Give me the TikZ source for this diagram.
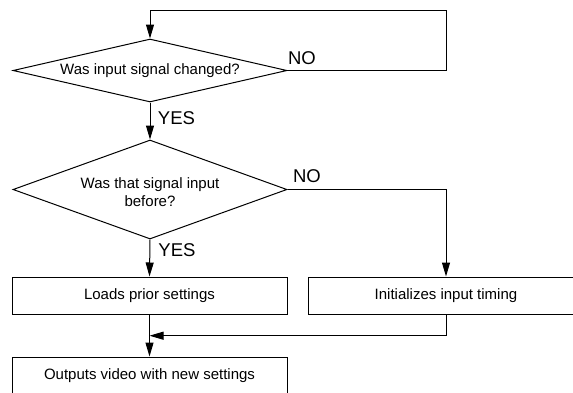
\documentclass[tikz,border=0pt]{standalone}
\usepackage{fontspec}
\setmainfont{Liberation Sans}
\usetikzlibrary{arrows.meta,shapes.geometric}
\begin{document}
\begin{tikzpicture}[x=1pt,y=-1pt,
  line width=1pt,
  every node/.style={font=\fontsize{15}{18}\selectfont},
  dec/.style={draw, diamond, inner sep=0pt, minimum width=274pt},
  procbox/.style={draw, rectangle, inner sep=0pt, minimum height=37pt},
  lbl/.style={font=\fontsize{18.5}{22}\selectfont, inner sep=0pt},
  arr/.style={-{Triangle[length=14pt,width=8pt]}},
  plain/.style={-}]
\clip (0,0) rectangle (573,392);

\node[dec, minimum height=63pt] (d1) at (150,70.5) {};
\node at (150,71) {Was input signal changed?};

\node[dec, minimum height=99pt] (d2) at (150,189.5) {};
\node[align=center] (t2) at (150,192) {Was that signal input\\before?};

\node[procbox, minimum width=275pt] (b1) at (149.5,295.5) {Loads prior settings};
\node[procbox, minimum width=276pt] (b2) at (446,295.5) {Initializes input timing};
\node[procbox, minimum width=275pt] (b3) at (149.5,375.5) {Outputs video with new settings};

\coordinate (c1) at (446,70.5);
\coordinate (c2) at (446,10);
\coordinate (c3) at (150,10);
\coordinate (c4) at (446,189.5);
\coordinate (m) at (149.5,335.7);

\draw[arr] (d1.east) -- (c1) -- (c2) -- (c3) -- (d1.north);
\draw[arr] (d1.south) -- (d2.north);
\draw[arr] (d2.east) -- (c4) -- (b2.north);
\draw[arr] (d2.south) -- (b1.north);
\draw[arr] (b1.south) -- (b3.north);
\draw[arr] (b2.south) |- (m);

\node[lbl] (no1) at (302,58) {NO};
\node[lbl] (yes1) at (176.5,118) {YES};
\node[lbl] (no2) at (307,176) {NO};
\node[lbl] (yes2) at (177,250) {YES};
\end{tikzpicture}
\end{document}
